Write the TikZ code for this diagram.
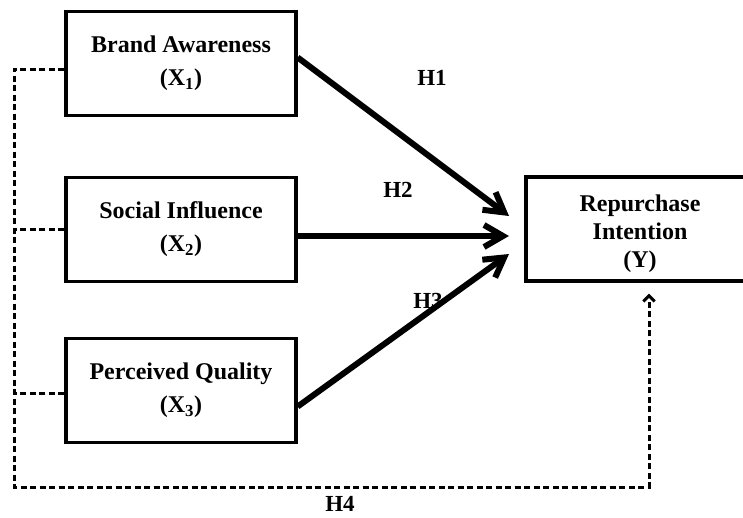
\documentclass[tikz,border=0pt]{standalone}
\usepackage{fontspec}
\setmainfont{Liberation Serif}
\usetikzlibrary{arrows.meta}

\tikzset{
  varbox/.style={draw, line width=3.4pt, minimum width=230pt, minimum height=104pt, inner sep=0pt, align=center, font=\bfseries\fontsize{24}{33}\selectfont},
  effect/.style={line width=6pt, -{Straight Barb[length=19pt,width=22pt]}},
  moderate/.style={line width=3pt, dash pattern=on 6pt off 3.5pt},
  hlabel/.style={anchor=base, font=\bfseries\fontsize{23}{26}\selectfont}
}

\begin{document}
\begin{tikzpicture}[x=1pt, y=-1pt]
\clip (0,0) rectangle (743,517);
% independent variables
\node[varbox] (brand) at (181,63.5) {Brand Awareness\\(X\textsubscript{1})};
\node[varbox] (social) at (181,229.5) {Social Influence\\(X\textsubscript{2})};
\node[varbox] (quality) at (181,390.5) {Perceived Quality\\(X\textsubscript{3})};
% dependent variable
\node[varbox, minimum width=228pt, font=\bfseries\fontsize{24}{28}\selectfont] (repurchase) at (640,229) {\rule{0pt}{27pt}Repurchase\\Intention\\(Y)};
% hypotheses
\node[hlabel] (h1) at (432,85) {H1};
\node[hlabel] (h2) at (398,197) {H2};
\node[hlabel] (h3) at (428,308) {H3};
\node[hlabel] (h4) at (340,511) {H4};
% arrow tips
\coordinate (tipA) at (509,216);
\coordinate (tipB) at (509,236);
\coordinate (tipC) at (509,254);
\draw[effect] ([yshift=6pt]brand.east) -- (tipA);
\draw[effect] ([yshift=-6.5pt]social.east) -- (tipB);
\draw[effect] ([yshift=-16pt]quality.east) -- (tipC);
% joint effect
\coordinate (loop) at (14,487);
\draw[moderate, -{Straight Barb[angle=90:8pt]}] ([yshift=-5.5pt]brand.west) -| (loop) -| ([xshift=9pt,yshift=-11pt]repurchase.south);
\draw[moderate] (social.west) -- (social.west -| loop);
\draw[moderate] ([yshift=-2.5pt]quality.west) -- ([yshift=-2.5pt]quality.west -| loop);
\end{tikzpicture}
\end{document}
